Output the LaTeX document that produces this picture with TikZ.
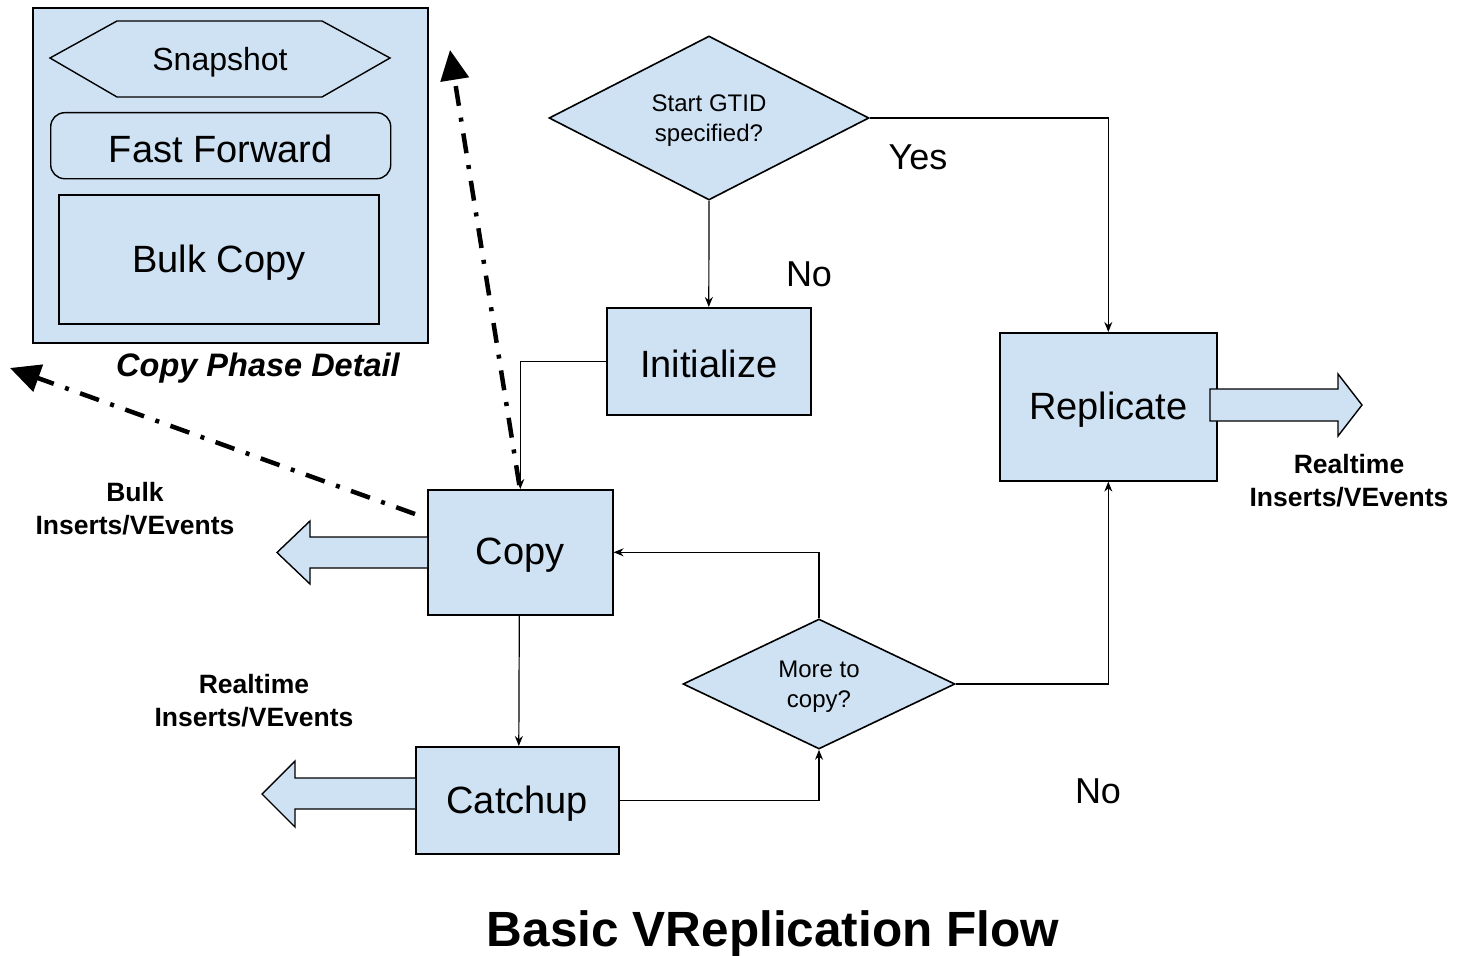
\documentclass[tikz,border=0pt]{standalone}
\usepackage{fontspec}
\setmainfont{Liberation Sans}
\usetikzlibrary{shapes.geometric,arrows.meta,calc}
\definecolor{boxblue}{HTML}{CFE2F3}
\begin{document}
\begin{tikzpicture}[x=1pt,y=-1pt,
  every node/.style={font=\fontsize{38}{44}\selectfont},
  procbox/.style={draw=black,fill=boxblue,line width=1.6pt,inner sep=0pt,anchor=north west},
  decide/.style={draw=black,fill=boxblue,line width=1.6pt,shape=diamond,inner sep=0pt},
  dtxt/.style={align=center,font=\fontsize{24}{30}\selectfont,yshift=-3pt},
  txt/.style={yshift=-3pt},
  flow/.style={line width=1.2pt,-{Stealth[length=10pt,width=8pt]}},
  ddarrow/.style={line width=4.5pt,dash pattern=on 20pt off 12pt on 4pt off 12pt,-{Triangle[length=30pt,width=28pt]}},
  blockarrow/.style={draw=black,fill=boxblue,line width=1.4pt,line join=miter},
  lbl/.style={font=\fontsize{36}{40}\selectfont,yshift=-2pt},
  outlbl/.style={font=\bfseries\fontsize{26.5}{33}\selectfont,align=center,yshift=-1pt}
]
\useasboundingbox (0,0) rectangle (1471,955);

% Copy phase detail panel
\node[procbox,minimum width=395pt,minimum height=335pt] (panel) at (32,7) {};
\draw[line width=1.4pt,fill=boxblue] (50,58) -- (117,21) -- (322,21) -- (390,58) -- (322,97) -- (117,97) -- cycle;
\node[font=\fontsize{32}{38}\selectfont,txt] (snap) at (220,59) {Snapshot};
\node[procbox,rounded corners=14pt,minimum width=340pt,minimum height=66pt,line width=1.4pt] (ff) at (50,112) {};
\node[txt] at (ff.center) (fftext) {Fast Forward};
\node[procbox,minimum width=320pt,minimum height=129pt] (bulk) at (58,194) {};
\node[txt] at (bulk.center) (bulktext) {Bulk Copy};
\node[font=\bfseries\itshape\fontsize{32.5}{38}\selectfont,txt] (cpd) at (258,365) {Copy Phase Detail};

% main nodes
\node[decide,minimum width=320pt,minimum height=164pt] (gtid) at (709,118) {};
\node[dtxt] (gtidtxt) at (gtid.center) {Start GTID\\specified?};
\node[procbox,minimum width=204pt,minimum height=107pt] (init) at (606,307) {};
\node[txt] (inittxt) at (init.center) {Initialize};
\node[procbox,minimum width=217pt,minimum height=148pt] (repl) at (999,332) {};
\node[txt] (repltxt) at (repl.center) {Replicate};
\node[procbox,minimum width=185pt,minimum height=125pt] (copy) at (427,489) {};
\node[txt] (copytxt) at (copy.center) {Copy};
\node[procbox,minimum width=203pt,minimum height=107pt] (catch) at (415,746) {};
\node[txt] (catchtxt) at (catch.center) {Catchup};
\node[decide,minimum width=272pt,minimum height=130pt] (more) at (819,684) {};
\node[dtxt] (moretxt) at (more.center) {More to\\copy?};

% labels
\node[lbl] (yes) at (918,155) {Yes};
\node[lbl] (no1) at (809,272) {No};
\node[lbl] (no2) at (1098,789) {No};

% connectors
\draw[flow] (gtid.east) -| (repl.north);
\draw[flow] (gtid.south) -- (init.north);
\draw[flow] (init.west) -| (copy.north);
\draw[flow] ($(copy.south)+(-1,0)$) -- ($(catch.north)+(1.5,0)$);
\draw[flow] (catch.east) -| (more.south);
\draw[flow] (more.north) |- (copy.east);
\draw[flow] (more.east) -| (repl.south);

% dash-dot arrows to panel
\coordinate (uptip) at (450,50);
\coordinate (lefttip) at (10,368);
\draw[ddarrow] ($(copy.north)+(-1,-4)$) -- (uptip);
\draw[ddarrow] ($(copy.north west)+(-12,25)$) -- (lefttip);

% block arrows
\draw[blockarrow] (427,537) -- (310,537) -- (310,521) -- (277,552.5) -- (310,584) -- (310,568) -- (427,568);
\draw[blockarrow] (415,778) -- (295,778) -- (295,761) -- (262,794) -- (295,827) -- (295,809) -- (415,809);
\draw[blockarrow] (1210,389) -- (1338,389) -- (1338,374) -- (1362,405) -- (1338,436) -- (1338,421) -- (1210,421) -- cycle;

% output labels
\node[outlbl] (bulkout) at (135,508) {Bulk\\Inserts/VEvents};
\node[outlbl] (rtout1) at (254,700) {Realtime\\Inserts/VEvents};
\node[outlbl] (rtout2) at (1349,480) {Realtime\\Inserts/VEvents};

% title
\node[font=\bfseries\fontsize{49.5}{56}\selectfont] (title) at (773,934) {Basic VReplication Flow};
\end{tikzpicture}
\end{document}
